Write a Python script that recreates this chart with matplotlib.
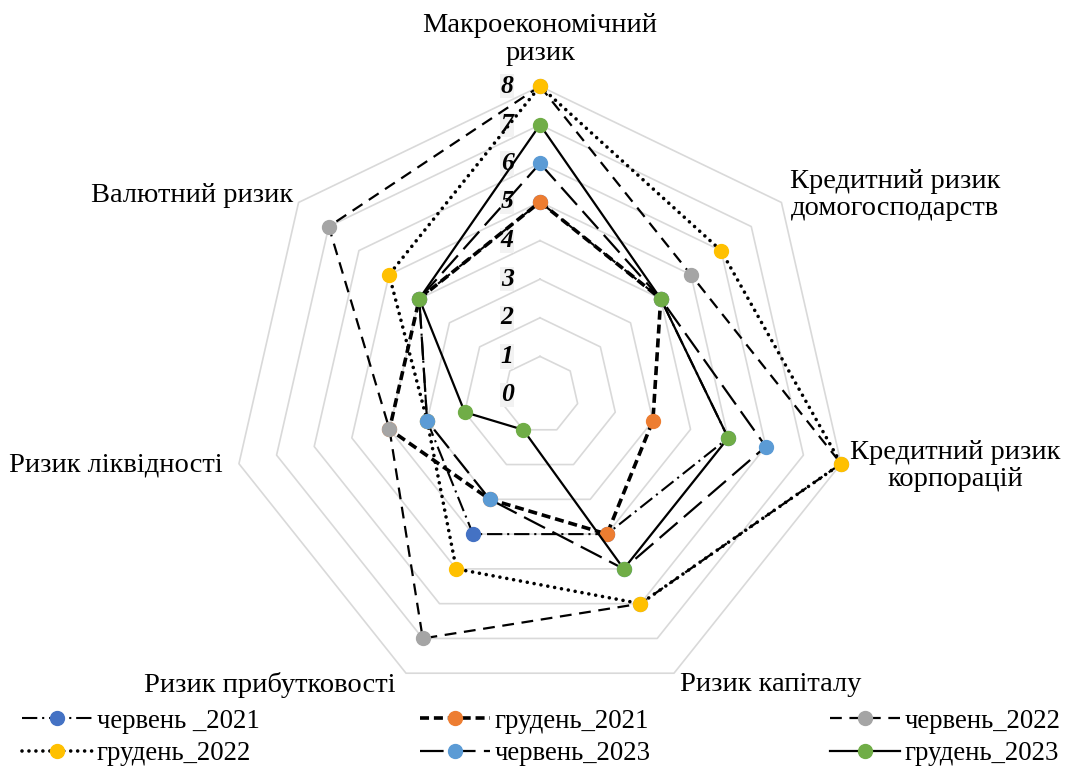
import numpy as np
import matplotlib
matplotlib.use('Agg')
import matplotlib.pyplot as plt
from matplotlib.lines import Line2D

plt.rcParams['font.family'] = ['Liberation Serif', 'DejaVu Serif']
plt.rcParams['lines.scale_dashes'] = False

# осі радару (за годинниковою стрілкою від верху)
categories = ['Макроекономічний\nризик', 'Кредитний ризик\nдомогосподарств',
              'Кредитний ризик\nкорпорацій', 'Ризик капіталу',
              'Ризик прибутковості', 'Ризик ліквідності', 'Валютний ризик']

series_names = ['червень _2021', 'грудень_2021', 'червень_2022',
                'грудень_2022', 'червень_2023', 'грудень_2023']

jun_2021 = [5, 4, 5, 4, 4, 3, 4]
dec_2021 = [5, 4, 3, 4, 3, 4, 4]
jun_2022 = [8, 5, 8, 6, 7, 4, 7]
dec_2022 = [8, 6, 8, 6, 5, 3, 5]
jun_2023 = [6, 4, 6, 5, 3, 3, 4]
dec_2023 = [7, 4, 5, 5, 1, 2, 4]

ticks = [0, 1, 2, 3, 4, 5, 6, 7, 8]

# стилі
colors = ['#4472C4', '#ED7D31', '#A5A5A5', '#FFC000', '#5B9BD5', '#70AD47']
styles = [
    dict(lw=1.5, dashes=(11, 3.5, 1.5, 3.5)),
    dict(lw=2.6, dashes=(6.5, 3.5)),
    dict(lw=1.6, dashes=(8.5, 5.5)),
    dict(lw=2.6, dashes=(0.01, 5), dash_capstyle='round'),
    dict(lw=1.6, dashes=(17, 6)),
    dict(lw=1.6),
]

# позиції підписів осей (в одиницях шкали)
label_pos = [(0, 9.2), (9.2, 5.18), (10.75, -1.84), (5.98, -7.51),
             (-6.99, -7.51), (-10.98, -1.81), (-9.02, 5.18)]

W, H = 1069, 769
cx, cy = 540, 374          # центр у пікселях (від низу)
unit = 38.6                # пікселів на одиницю

fig = plt.figure(figsize=(W / 100, H / 100), dpi=100)
ax = fig.add_axes([0, 0, 1, 1])
ax.set_xlim(-cx / unit, (W - cx) / unit)
ax.set_ylim(-cy / unit, (H - cy) / unit)
ax.axis('off')

n = len(categories)
ang = np.pi / 2 - 2 * np.pi * np.arange(n) / n


def to_xy(vals):
    v = np.asarray(vals, dtype=float)
    x = v * np.cos(ang)
    y = v * np.sin(ang)
    return np.append(x, x[0]), np.append(y, y[0])


# сітка
for t in ticks[1:]:
    gx, gy = to_xy([t] * n)
    ax.plot(gx, gy, color='#d9d9d9', lw=1.2, zorder=1)

all_series = [jun_2021, dec_2021, jun_2022, dec_2022, jun_2023, dec_2023]
handles = []
for i, (vals, name) in enumerate(zip(all_series, series_names)):
    x, y = to_xy(vals)
    ax.plot(x, y, color='black', zorder=2 + i, **styles[i])
    ax.plot(x[:-1], y[:-1], 'o', ms=10, color=colors[i], mec=colors[i], zorder=2 + i)
    handles.append(Line2D([], [], color='black', marker='o', ms=10,
                          markerfacecolor=colors[i], markeredgecolor=colors[i],
                          label=name, **styles[i]))

# підписи шкали
for t in ticks:
    ax.text(-0.85, t, str(t), ha='center', va='center', fontsize=18.5,
            fontweight='bold', fontstyle='italic', zorder=1.5,
            bbox=dict(facecolor='#f2f2f2', edgecolor='none', pad=0.5))

for lab, (lx, ly) in zip(categories, label_pos):
    ax.text(lx, ly, lab, ha='center', va='center', fontsize=20.5,
            linespacing=1.15)

# легенда: три колонки по два записи (рядки: 0,1,2 / 3,4,5)
col_x = [22 / W, 420 / W, 830 / W]
for c in range(3):
    idx = [c, c + 3]
    leg = fig.legend([handles[k] for k in idx], [series_names[k] for k in idx],
                     loc='lower left', bbox_to_anchor=(col_x[c], 0.004),
                     frameon=False, fontsize=19.3, handlelength=2.6,
                     handletextpad=0.18, labelspacing=0.27,
                     borderpad=0, borderaxespad=0)

fig.savefig('out.png', dpi=100)
